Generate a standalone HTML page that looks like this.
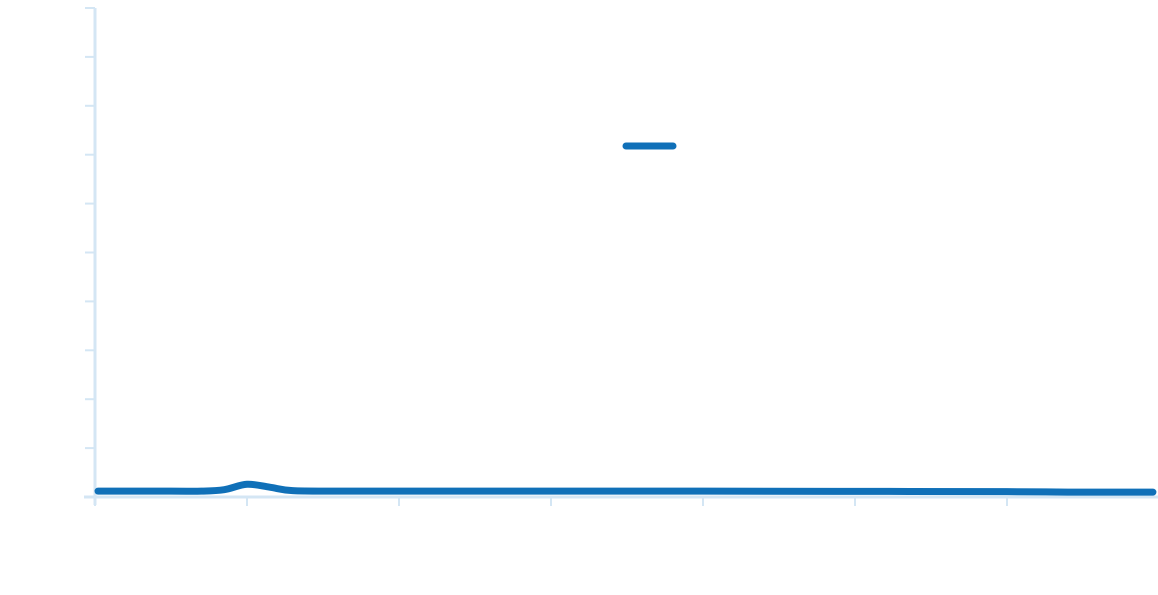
<!DOCTYPE html>
<html><head><meta charset="utf-8"><style>
html,body{margin:0;padding:0;background:#fff;width:1158px;height:595px;overflow:hidden;font-family:"Liberation Sans",sans-serif;}
</style></head><body>
<svg id="chart" width="1158" height="595" viewBox="0 0 1158 595">
<g id="axes"></g>
<g id="series"></g>
<line x1="626" y1="146" x2="673" y2="146" stroke="#1070b8" stroke-width="7" stroke-linecap="round"/>
</svg>
<script>
const xValues = [0.02, 0.5, 0.7, 0.85, 1.0, 1.15, 1.3, 1.6, 2, 3, 4, 5, 6, 6.4, 6.96];
const yValues = [1.2, 1.2, 1.2, 1.5, 2.6, 2.0, 1.3, 1.2, 1.2, 1.2, 1.2, 1.15, 1.1, 1.0, 1.0];
const xTicks = [0, 1, 2, 3, 4, 5, 6];
const yTicks = [0, 10, 20, 30, 40, 50, 60, 70, 80, 90, 100];
const NS = "http://www.w3.org/2000/svg";
const X0 = 95, XS = 152, Y0 = 497, YS = 4.89;
function sx(v){return X0 + v*XS;}
function sy(v){return Y0 - v*YS;}
const axes = document.getElementById('axes');
function mk(tag, attrs, parent){const e=document.createElementNS(NS,tag);for(const k in attrs)e.setAttribute(k,attrs[k]);parent.appendChild(e);return e;}
const ya = mk('line',{x1:X0,y1:sy(100),x2:X0,y2:505,stroke:'#d4e6f4','stroke-width':3},axes);


const xa = mk('line',{x1:84,y1:Y0,x2:1158,y2:Y0,stroke:'#d4e6f4','stroke-width':3},axes);


yTicks.forEach(t=>{
  const l = mk('line',{x1:85,y1:sy(t),x2:X0,y2:sy(t),stroke:'#d4e6f4','stroke-width':2},axes);
  
  
});
xTicks.forEach(t=>{
  const l = mk('line',{x1:sx(t),y1:Y0,x2:sx(t),y2:506,stroke:'#d4e6f4','stroke-width':2},axes);
  
  
});
const pts = xValues.map((x,i)=>[sx(x),sy(yValues[i])]);
let d = 'M'+pts[0][0]+','+pts[0][1];
for(let i=0;i<pts.length-1;i++){
  const p0=pts[Math.max(0,i-1)],p1=pts[i],p2=pts[i+1],p3=pts[Math.min(pts.length-1,i+2)];
  const c1=[p1[0]+(p2[0]-p0[0])/6,p1[1]+(p2[1]-p0[1])/6];
  const c2=[p2[0]-(p3[0]-p1[0])/6,p2[1]-(p3[1]-p1[1])/6];
  d+=' C'+c1[0]+','+c1[1]+' '+c2[0]+','+c2[1]+' '+p2[0]+','+p2[1];
}
const path = mk('path',{d:d,fill:'none',stroke:'#1070b8','stroke-width':7,'stroke-linecap':'round','stroke-linejoin':'round'},document.getElementById('series'));


</script>
</body></html>
